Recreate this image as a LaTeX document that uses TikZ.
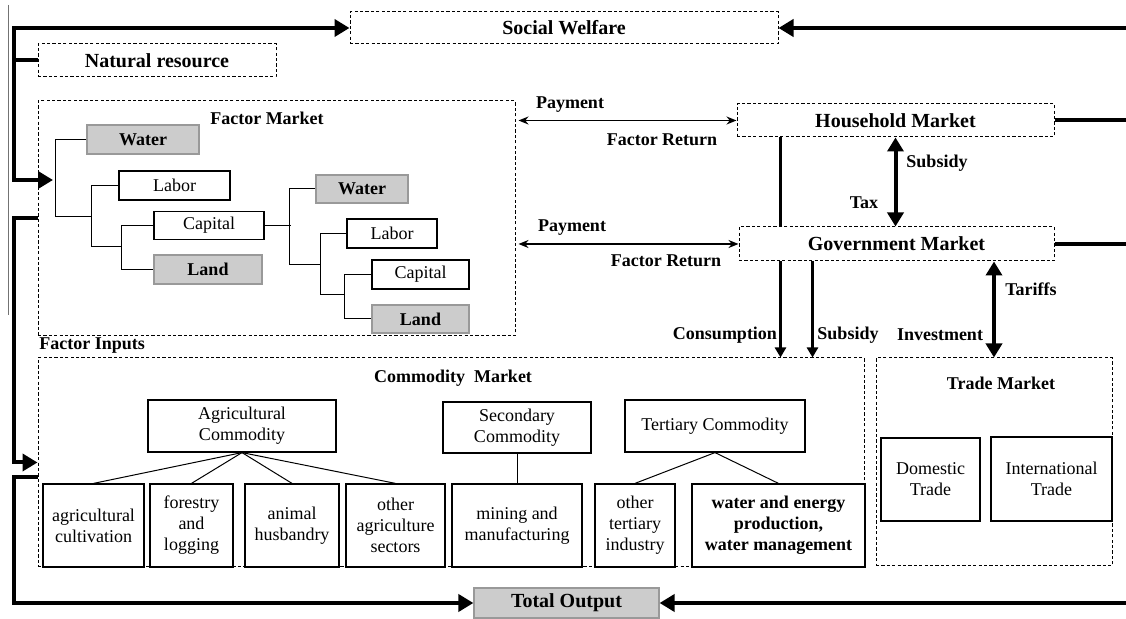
\documentclass[tikz,border=0pt]{standalone}
\usepackage{fontspec}
\setmainfont{Liberation Serif}
\usepackage{tikz}
\usetikzlibrary{arrows.meta}

\begin{document}
\begin{tikzpicture}[x=0.5pt, y=-0.5pt,
  every node/.style={inner sep=1pt},
  big/.style={font=\fontsize{10}{12}\selectfont\bfseries},
  lab/.style={font=\fontsize{9}{10.5}\selectfont\bfseries},
  txt/.style={font=\fontsize{9}{10.5}\selectfont, align=center},
  dbox/.style={draw, line width=0.5pt, dash pattern=on 1.6pt off 1.1pt},
  sbox/.style={draw, line width=0.6pt, txt},
  gbox/.style={draw=black!40, fill=black!20, line width=0.6pt, lab},
  leaf/.style={sbox, minimum height=41.5pt},
  tree/.style={line width=0.5pt},
  flow/.style={line width=2pt},
  flowarrow/.style={flow, -{Triangle[length=7.5pt,width=8.5pt]}},
  bigdouble/.style={flow, {Triangle[length=7pt,width=8pt]}-{Triangle[length=7pt,width=8pt]}},
  midline/.style={line width=1.5pt},
  midarrow/.style={midline, -{Triangle[length=5pt,width=5.5pt]}},
  payarrow/.style={line width=0.8pt, {Stealth[length=5pt,width=4pt]}-{Stealth[length=5pt,width=4pt]},
                   shorten <=1.5pt}]
\fill[white] (0,0) rectangle (1126,619);
\useasboundingbox (0,0) rectangle (1126,619);
\draw[line width=0.5pt, black!55] (8,5) -- (8,315);

\node[dbox, big, minimum width=214pt, minimum height=16pt] (sw) at (564,28) {Social Welfare};
\node[dbox, big, minimum width=119pt, minimum height=16.5pt] (nr) at (157,60.5) {Natural resource};
\node[dbox, minimum width=238.5pt, minimum height=117.5pt] (fm) at (276.5,218.5) {};
\node[lab] (fmt) at (267,118) {Factor Market};
\node[lab, anchor=west] (fin) at (37,346) {Factor Inputs};
\node[dbox, big, minimum width=158.5pt, minimum height=16.5pt] (hh) at (895.5,120.5) {Household Market};
\node[dbox, big, minimum width=157.5pt, minimum height=17pt] (gov) at (896.5,244) {Government Market};
\node[dbox, minimum width=413pt, minimum height=104.5pt] (cm) at (451,462.5) {};
\node[lab] (cmt) at (453,378) {Commodity~ Market};
\node[dbox, minimum width=118pt, minimum height=104pt] (tm) at (994,462) {};
\node[lab] (tmt) at (1001,383) {Trade Market};
\node[gbox, big, minimum width=92.5pt, minimum height=15pt] (out) at (566.5,603) {Total Output};

\node[gbox, minimum width=56pt, minimum height=14.5pt] (w1) at (143,139.5) {Water};
\node[sbox, minimum width=55.5pt, minimum height=14.5pt] (l1) at (174.5,185.5) {Labor};
\node[sbox, minimum width=55pt, minimum height=14pt] (c1) at (209,225.5) {Capital};
\node[gbox, minimum width=54pt, minimum height=14.5pt] (d1) at (208,269.5) {Land};
\node[gbox, minimum width=46pt, minimum height=14pt] (w2) at (362,189) {Water};
\node[sbox, minimum width=45pt, minimum height=14.5pt] (l2) at (392,233.5) {Labor};
\node[sbox, minimum width=48.5pt, minimum height=14.5pt] (c2) at (420.5,274.5) {Capital};
\node[gbox, minimum width=48.5pt, minimum height=14pt] (d2) at (420.5,319) {Land};

\node[sbox, minimum width=94pt, minimum height=26pt] (ag) at (242,426) {Agricultural\\Commodity};
\node[sbox, minimum width=74pt, minimum height=25.5pt] (sec) at (517,427.5) {Secondary\\Commodity};
\node[sbox, minimum width=90pt, minimum height=26pt] (ter) at (715,426) {Tertiary Commodity};
\node[leaf, minimum width=50.5pt] (a1) at (93.5,525.5) {agricultural\\cultivation};
\node[leaf, minimum width=41.5pt] (a2) at (191.5,525.5) {forestry\\and\\logging};
\node[leaf, minimum width=47pt] (a3) at (292,525.5) {animal\\husbandry};
\node[leaf, minimum width=49.5pt] (a4) at (395.5,525.5) {other\\agriculture\\sectors};
\node[leaf, minimum width=65pt] (s1) at (517,525.5) {mining and\\manufacturing};
\node[leaf, minimum width=40pt] (t1) at (635,525.5) {other\\tertiary\\industry};
\node[leaf, minimum width=86.5pt, font=\fontsize{9}{10.5}\selectfont\bfseries] (t2) at (778.5,525.5)
  {water and energy\\production,\\water management};
\node[sbox, minimum width=49.5pt, minimum height=41.5pt] (dom) at (930.5,479.5) {Domestic\\Trade};
\node[sbox, minimum width=60.5pt, minimum height=42pt] (intl) at (1051.5,479) {International\\Trade};

\node[lab] (pay1) at (570,105) {Payment};
\node[lab] (ret1) at (662,140) {Factor Return};
\node[lab] (pay2) at (572,228) {Payment};
\node[lab] (ret2) at (666,261) {Factor Return};
\node[lab] (sub1) at (937,163) {Subsidy};
\node[lab] (tax) at (864,203) {Tax};
\node[lab] (cons) at (725,335) {Consumption};
\node[lab] (sub2) at (848,335) {Subsidy};
\node[lab] (inv) at (940,335) {Investment};
\node[lab] (tar) at (1031,289) {Tariffs};

\coordinate (fmin) at (53,180);
\coordinate (edgetop) at (1126,28);
\coordinate (edgebot) at (1126,603);
\coordinate (j1) at (92,217);
\coordinate (j2) at (122,247);
\coordinate (j3) at (321,265);
\coordinate (j4) at (345,295);

\draw[tree] (c1.west) -- ++(-32,0) |- (d1.west);
\draw[tree] (l1.west) -- ++(-27,0) |- (j2);
\draw[tree] (w1.west) -- ++(-31,0) |- (j1);
\draw[tree] (c1.east) -- ++(26,0);
\draw[tree] (w2.west) -- ++(-26,0) |- (j3);
\draw[tree] (l2.west) -- ++(-26,0) |- (j4);
\draw[tree] (c2.west) -- ++(-27,0) |- (d2.west);

\foreach \n in {a1,a2,a3,a4}
  \draw[tree] (ag.south) -- (\n.north);
\draw[tree] (sec.south) -- (s1.north);
\foreach \n in {t1,t2}
  \draw[tree] (ter.south) -- (\n.north);

\draw[flowarrow] (nr.west) -- ++(-24,0) |- (sw.west);
\draw[flowarrow] ([xshift=-12pt]nr.west) |- (fmin);
\draw[flowarrow] (fm.west) -- ++(-24,0) |- (cm.west);
\draw[flowarrow] ([yshift=-7.25pt]cm.west) -- ++(-24,0) |- (out.west);
\draw[flowarrow] (edgetop) -- (sw.east);
\draw[flowarrow] (edgebot) -- (out.east);
\draw[flow] (hh.east) -- (hh.east -| edgetop);
\draw[flow] (gov.east) -- (gov.east -| edgetop);

\draw[payarrow] (fm.east |- hh.west) -- (hh.west);
\draw[payarrow] (fm.east |- gov.west) -- (gov.west);
\draw[midline] ([xshift=22pt]hh.south west) -- ([xshift=21pt]gov.north west);
\draw[midarrow] ([xshift=21pt]gov.south west) -- ([xshift=21pt]gov.south west |- cm.north);
\draw[midarrow] ([xshift=37pt]gov.south west) -- ([xshift=37pt]gov.south west |- cm.north);
\draw[bigdouble] (hh.south) -- (hh.south |- gov.north);
\draw[bigdouble] (tm.north) -- (tm.north |- gov.south);
\end{tikzpicture}
\end{document}
